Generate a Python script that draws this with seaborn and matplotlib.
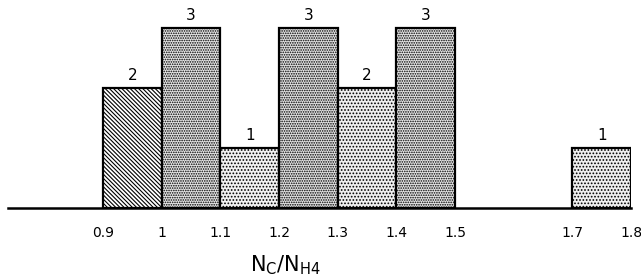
import numpy as np
import pandas as pd
import seaborn as sns
import matplotlib.pyplot as plt

# histogram of N_C / N_H4 ratios
bin_left = [0.9, 1.0, 1.1, 1.2, 1.3, 1.4, 1.7]
counts = [2, 3, 1, 3, 2, 3, 1]
bin_edges = [0.9, 1.0, 1.1, 1.2, 1.3, 1.4, 1.5, 1.6, 1.7, 1.8]
tick_values = [0.9, 1.0, 1.1, 1.2, 1.3, 1.4, 1.5, 1.7, 1.8]
tick_labels = ['0.9', '1', '1.1', '1.2', '1.3', '1.4', '1.5', '1.7', '1.8']
# fill pattern / background tone per non-empty bin
patterns = ['\\\\\\\\\\\\\\\\', '.......', '.....', '.......', '.....', '.......', '.....']
tones = ['white', '#e6e6e6', '#f2f2f2', '#e2e2e2', '#f0f0f0', '#e6e6e6', '#f0f0f0']

sns.set_style('white')
plt.rcParams['font.family'] = ['DejaVu Sans']
plt.rcParams['hatch.linewidth'] = 0.8
plt.rcParams['text.color'] = 'black'
plt.rcParams['xtick.color'] = 'black'
plt.rcParams['axes.labelcolor'] = 'black'

df = pd.DataFrame({'ratio': bin_left, 'count': counts})

fig = plt.figure(figsize=(6.41, 2.78), dpi=100)
ax = fig.add_axes([8 / 641, 70 / 278, 623 / 641, 203 / 278])

sns.histplot(data=df, x='ratio', weights='count', bins=bin_edges,
             stat='count', fill=True, color='white', alpha=1,
             edgecolor='black', linewidth=1.6, ax=ax)

k = 0
for p in ax.patches:
    if p.get_height() == 0:
        p.set_visible(False)
        continue
    p.set_hatch(patterns[k])
    p.set_facecolor(tones[k])
    k += 1
    ax.text(p.get_x() + p.get_width() / 2, p.get_height() + 0.08, f'{int(p.get_height())}',
            ha='center', va='bottom', fontsize=11, color='black')

ax.set_xlim(0.738, 1.8)
ax.set_ylim(0, 3.38)
sns.despine(ax=ax, left=True, top=True, right=True)
ax.spines['bottom'].set_linewidth(1.8)
ax.spines['bottom'].set_color('black')
ax.set_yticks([])
ax.set_ylabel('')
ax.set_xticks(tick_values)
ax.set_xticklabels(tick_labels, fontsize=10)
ax.tick_params(axis='x', length=0, pad=13, colors='black')
ax.set_xlabel(r'$\mathregular{N_C/N_{H4}}$', fontsize=15)
ax.xaxis.set_label_coords(0.446, -0.28, transform=ax.transAxes)
ax.xaxis.label.set_va('center')

fig.savefig('out.png', dpi=100)
